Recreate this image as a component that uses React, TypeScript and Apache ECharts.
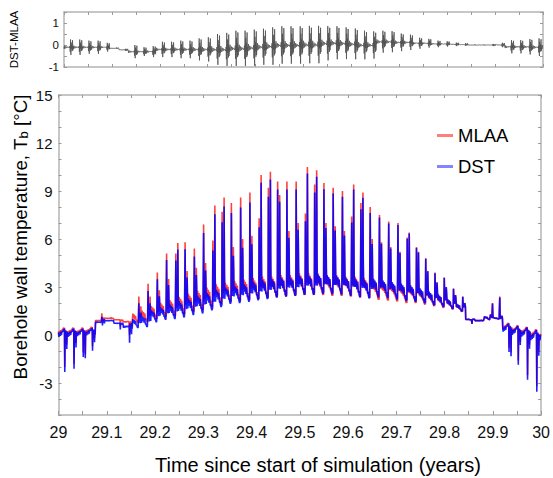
import React, { useEffect, useRef } from "react";
import * as echarts from "echarts";

// ---- time layout ----
const START_YEAR = 29;
const END_YEAR = 30;
const DAYS = 365;
const SAMPLES_PER_DAY = 4;
const SAMPLES_PER_WEEK = 28;

// ---- weekly MLAA values (°C) ----
// resting level (trough in summer, plateau in winter)
const mlaaBase = [
  0.45, 0.45, 0.45, 0.5, 0.9, 1.05, 0.95, 0.85, 0.75, 0.8,
  1.0, 1.15, 1.2, 1.3, 1.45, 1.55, 1.75, 1.95, 2.1, 2.15,
  2.2, 2.25, 2.3, 2.35, 2.4, 2.45, 2.5, 2.5, 2.5, 2.45,
  2.45, 2.4, 2.35, 2.3, 2.2, 2.15, 2.1, 2.0, 2.0, 1.9,
  1.8, 1.7, 1.6, 1.45, 0.95, 0.9, 0.95, 1.0, 0.75, 0.6,
  0.5, 0.35, 0.3,
];
// daily peak level of ordinary days
const mlaaBand = [
  0.0, 0.0, 0.05, 0.1, 0.9, 1.05, 0.95, 0.8, 1.4, 1.6,
  1.9, 2.1, 2.3, 2.5, 2.7, 2.9, 3.1, 3.3, 3.4, 3.5,
  3.6, 3.7, 3.8, 3.8, 3.9, 3.9, 4.0, 4.0, 4.0, 3.9,
  3.9, 3.8, 3.8, 3.7, 3.6, 3.5, 3.4, 3.3, 3.2, 3.0,
  2.8, 2.6, 2.3, 2.0, 1.0, 0.9, 1.2, 1.1, 0.3, 0.1,
  0.0, -0.2, -0.2,
];
// first big spike of the week
const mlaaSpikeA = [
  -2.0, -1.8, -1.1, -0.7, 1.35, 1.1, 0.6, 0.0, 2.4, 3.2,
  3.9, 5.1, 5.1, 5.8, 5.4, 6.9, 5.9, 7.7, 8.25, 8.6,
  8.9, 7.3, 9.2, 9.6, 9.6, 9.6, 7.6, 9.4, 9.5, 9.2,
  9.0, 7.4, 8.25, 8.0, 7.5, 7.1, 7.0, 6.1, 5.5, 4.8,
  3.9, 3.6, 2.9, 2.4, 0.7, 0.95, 1.3, 2.4, -0.8, -1.6,
  -2.5, -3.2, -3.3,
];
// second spike of the week
const mlaaSpikeB = [
  -0.6, -0.5, -1.2, -0.2, 1.1, 1.05, 0.9, 0.5, 1.8, 2.4,
  2.8, 3.5, 5.75, 4.0, 4.2, 4.5, 8.1, 8.6, 5.5, 6.0,
  6.2, 10.0, 10.2, 8.75, 6.5, 7.0, 10.5, 10.3, 7.0, 6.8,
  6.5, 9.4, 8.9, 6.0, 5.8, 5.5, 5.2, 6.4, 5.2, 4.0,
  3.3, 3.0, 2.5, 2.0, 1.0, 0.9, 2.0, 1.2, -1.1, -0.4,
  -0.6, -1.0, -1.0,
];
// weekly size and offset of DST-MLAA
const diffAmp = [
  0.35, 0.35, 0.3, 0.3, 0.2, 0.03, 0.05, 0.3, 0.2, 0.25,
  0.35, 0.35, 0.4, 0.4, 0.5, 0.55, 0.7, 0.75, 0.8, 0.8,
  0.82, 0.82, 0.85, 0.85, 0.85, 0.85, 0.85, 0.85, 0.78, 0.75,
  0.72, 0.7, 0.65, 0.62, 0.5, 0.48, 0.4, 0.35, 0.25, 0.2,
  0.15, 0.12, 0.08, 0.06, 0.02, 0.02, 0.05, 0.1, 0.3, 0.3,
  0.35, 0.4, 0.4,
];
const diffOff = [
  -0.1, -0.1, -0.1, -0.1, -0.1, -0.15, -0.22, -0.3, -0.3, -0.3,
  -0.2, -0.2, -0.2, -0.2, -0.2, -0.2, -0.2, -0.2, -0.15, -0.15,
  -0.12, -0.08, -0.05, 0, 0, 0, 0.02, 0.02, 0.08, 0.1,
  0.08, 0.05, 0, 0, 0.15, 0.15, 0.12, 0.12, 0.08, 0.08,
  0.05, 0.05, 0.03, 0.02, 0, 0, 0, 0, -0.08, -0.08,
  -0.08, -0.1, -0.1,
];

// ---- weekly shape (6-hour steps) ----
const bandWeight = [
  0.5, 0.9, 0.6, 0.45, 0.45, 0.8, 0.5, 0.35,
  0.35, 0.7, 0.4, 0.25, 0.2, 0.3, 0.1, 0.05,
  0.0, 0.1, 0.0, 0.0, 0.7, 1.0, 0.6, 0.5,
  0.6, 0.0, 0.8, 0.6,
];
const SPIKE_A_STEP = 19;
const SPIKE_B_STEP = 25;
const diffShape = [
  0.05, -0.2, 0.2, 0.0, 0.02, -0.15, 0.1, 0.0,
  0.0, -0.1, 0.05, 0.0, 0.0, -0.05, 0.0, 0.0,
  0.0, -0.1, 0.15, -0.6, 1.0, -1.0, 0.6, -0.2,
  0.3, -0.5, 0.9, -0.4,
];

// ---- axis ticks ----
const mainYTicks = [-3, 0, 3, 6, 9, 12, 15];
const diffYTicks = [-1, 0, 1];

function buildSeries() {
  const mlaa: number[][] = [];
  const dst: number[][] = [];
  const diff: number[][] = [];
  const n = DAYS * SAMPLES_PER_DAY;
  for (let i = 0; i <= n; i++) {
    const k = Math.floor(i / SAMPLES_PER_WEEK);
    const j = i % SAMPLES_PER_WEEK;
    const base = mlaaBase[k];
    const band = mlaaBand[k];
    const a = mlaaSpikeA[k];
    const b = mlaaSpikeB[k];
    let v = base + bandWeight[j] * (band - base);
    if (j === SPIKE_A_STEP) v = a;
    if (j === SPIKE_B_STEP) v = b;
    if (j === SPIKE_A_STEP + 1) v += 0.1 * (a - base);
    if (j === SPIKE_B_STEP + 1) v += 0.1 * (b - base);
    const d = diffAmp[k] * diffShape[j] + diffOff[k];
    const t = START_YEAR + (i / n) * (END_YEAR - START_YEAR);
    mlaa.push([t, v]);
    dst.push([t, v + d]);
    diff.push([t, d]);
  }
  return { mlaa, dst, diff };
}

const FONT = "'Liberation Sans', Arial, sans-serif";
const AXIS_COLOR = "#b4b4b4";
const TICK_COLOR = "#9a9a9a";

export default function App() {
  const ref = useRef<HTMLDivElement>(null);
  useEffect(() => {
    if (!ref.current) return;
    const chart = echarts.init(ref.current, undefined, { renderer: "svg" });
    const { mlaa, dst, diff } = buildSeries();

    const xLabelFmt = (v: number) => {
      const r = Math.round(v * 10) / 10;
      return Math.abs(v - r) < 1e-6 ? String(r) : "";
    };
    const lineStyle = { color: AXIS_COLOR, width: 1.5 };
    const tick = (len: number) => ({
      show: true,
      inside: true,
      length: len,
      lineStyle: { color: TICK_COLOR, width: 1 },
    });

    const xBase = {
      type: "value" as const,
      min: START_YEAR,
      max: END_YEAR,
      interval: 0.05,
      splitLine: { show: false },
      axisLine: { show: true, onZero: false, lineStyle },
    };
    const yMain = {
      type: "value" as const,
      min: -5,
      max: 15,
      interval: 1,
      gridIndex: 0,
      splitLine: { show: false },
      axisLine: { show: true, onZero: false, lineStyle },
      axisTick: tick(3),
    };
    const yDiff = {
      type: "value" as const,
      min: -1,
      max: 1.5,
      interval: 0.5,
      gridIndex: 1,
      splitLine: { show: false },
      axisLine: { show: true, onZero: false, lineStyle },
      axisTick: tick(3),
    };

    chart.setOption({
      animation: false,
      backgroundColor: "#fff",
      textStyle: { fontFamily: FONT },
      grid: [
        { left: 58.5, right: 10.5, top: 95, bottom: 63 },
        { left: 62.5, right: 10, top: 12, height: 55 },
      ],
      legend: {
        data: ["MLAA", "DST"],
        orient: "vertical",
        left: 432,
        top: 121,
        icon: "rect",
        itemWidth: 16,
        itemHeight: 3,
        itemGap: 12,
        textStyle: { fontSize: 18.5, color: "#000", fontFamily: FONT },
      },
      graphic: [
        {
          type: "text",
          x: 20,
          y: 237,
          rotation: Math.PI / 2,
          style: {
            text: "Borehole wall temperature, T{sub|b} [°C]",
            fontSize: 18.8,
            fontFamily: FONT,
            fill: "#000",
            align: "center",
            verticalAlign: "middle",
            rich: {
              sub: { fontSize: 13, fontFamily: FONT, fill: "#000", padding: [7, 0, 0, 0] },
            },
          },
        },
        {
          type: "text",
          x: 318,
          y: 465,
          style: {
            text: "Time since start of simulation (years)",
            fontSize: 20,
            fontFamily: FONT,
            fill: "#000",
            align: "center",
            verticalAlign: "middle",
          },
        },
      ],
      xAxis: [
        {
          ...xBase,
          gridIndex: 0,
          position: "bottom",
          axisTick: tick(4),
          axisLabel: {
            formatter: xLabelFmt,
            color: "#111",
            fontSize: 16,
            margin: 9,
            fontFamily: FONT,
          },
        },
        {
          ...xBase,
          gridIndex: 0,
          position: "top",
          axisTick: tick(3),
          axisLabel: { show: false },
        },
        {
          ...xBase,
          gridIndex: 1,
          position: "bottom",
          axisTick: tick(3),
          axisLabel: { show: false },
        },
        {
          ...xBase,
          gridIndex: 1,
          position: "top",
          axisTick: tick(3),
          axisLabel: { show: false },
        },
      ],
      yAxis: [
        {
          ...yMain,
          position: "left",
          axisLabel: {
            formatter: (v: number) => (mainYTicks.includes(v) ? String(v) : ""),
            color: "#111",
            fontSize: 15,
            margin: 6,
            fontFamily: FONT,
          },
        },
        {
          ...yMain,
          position: "right",
          axisLabel: { show: false },
        },
        {
          ...yDiff,
          position: "left",
          axisLabel: {
            formatter: (v: number) => (diffYTicks.includes(v) ? String(v) : ""),
            color: "#111",
            fontSize: 11.5,
            margin: 5,
            fontFamily: FONT,
          },
          name: "DST-MLAA",
          nameLocation: "middle",
          nameGap: 44,
          nameRotate: 90,
          nameTextStyle: { fontSize: 11.5, color: "#000", fontFamily: FONT },
        },
        {
          ...yDiff,
          position: "right",
          axisLabel: { show: false },
        },
      ],
      series: [
        {
          name: "MLAA",
          type: "line",
          xAxisIndex: 0,
          yAxisIndex: 0,
          data: mlaa,
          showSymbol: false,
          symbol: "none",
          lineStyle: { color: "rgba(255,0,0,0.75)", width: 1.6 },
          itemStyle: { color: "rgba(255,70,70,0.7)" },
        },
        {
          name: "DST",
          type: "line",
          xAxisIndex: 0,
          yAxisIndex: 0,
          data: dst,
          showSymbol: false,
          symbol: "none",
          lineStyle: { color: "rgba(0,0,255,0.88)", width: 1.6 },
          itemStyle: { color: "rgba(80,80,255,0.7)" },
        },
        {
          name: "DST-MLAA",
          type: "line",
          xAxisIndex: 2,
          yAxisIndex: 2,
          data: diff,
          showSymbol: false,
          symbol: "none",
          lineStyle: { color: "#505050", width: 0.8 },
        },
      ],
    });
    return () => chart.dispose();
  }, []);

  return (
    <div
      ref={ref}
      style={{ position: "fixed", left: 0, top: 0, width: 553, height: 478, background: "#fff" }}
    />
  );
}
